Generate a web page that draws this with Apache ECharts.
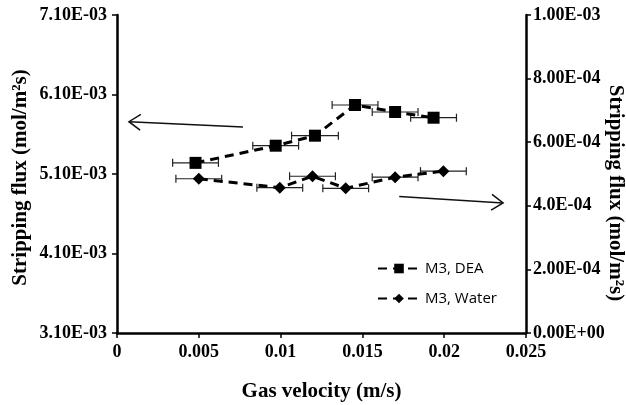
<!DOCTYPE html>
<html>
<head>
<meta charset="utf-8">
<script src="https://cdn.jsdelivr.net/npm/echarts@6/dist/echarts.min.js"></script>
<style>
  html, body { margin: 0; background: #fff; }
  #chart { width: 626px; height: 405px; }
</style>
</head>
<body>
<div id="chart"></div>
<script>
// gas velocity (m/s) and flux readings
const deaX = [0.0048, 0.0097, 0.0121, 0.01455, 0.0170, 0.01935]
const deaY = [5.24e-3, 5.456e-3, 5.582e-3, 5.968e-3, 5.88e-3, 5.808e-3]
const deaErr = [0.0014, 0.0014, 0.00143, 0.0014, 0.0014, 0.0014]

const waterX = [0.0050, 0.00995, 0.01195, 0.01398, 0.0170, 0.01995]
const waterY = [4.85e-4, 4.57e-4, 4.93e-4, 4.55e-4, 4.90e-4, 5.09e-4]
const waterErr = [0.0014, 0.0014, 0.0014, 0.0014, 0.0014, 0.0014]

const xTicks = [0, 0.005, 0.01, 0.015, 0.02, 0.025]
const leftTicks = [0.0031, 0.0041, 0.0051, 0.0061, 0.0071]
const leftLabels = ['3.10E-03', '4.10E-03', '5.10E-03', '6.10E-03', '7.10E-03']
const rightTicks = [0, 0.0002, 0.0004, 0.0006, 0.0008, 0.001]
const rightLabels = ['0.00E+00', '2.00E-04', '4.0E-04', '6.00E-04', '8.00E-04', '1.00E-03']

// annotation arrows [start, tip] in data units
const leftArrow = [[0.0077, 5.691e-3], [0.00073, 5.758e-3]]
const rightArrow = [[0.01725, 4.29e-4], [0.0236, 4.09e-4]]

const serif = 'Liberation Serif'
const tickFont = {color: '#000', fontFamily: serif, fontWeight: 'bold', fontSize: 18}
const nameFont = {color: '#000', fontFamily: serif, fontWeight: 'bold', fontSize: 21}
const axisLine = {show: true, lineStyle: {color: '#000', width: 2.5}}
const axisTick = {show: true, length: 5, lineStyle: {color: '#000', width: 1.5}}

const pickLabel = (ticks, labels) => v => {
  const i = ticks.findIndex(t => Math.abs(t - v) < 1e-9)
  return i < 0 ? '' : labels[i]
}

function errorBars(yIndex, xs, ys, errs) {
  return {
    type: 'custom',
    xAxisIndex: 0,
    yAxisIndex: yIndex,
    silent: true,
    z: 1,
    data: xs.map((x, i) => [x, ys[i], errs[i]]),
    renderItem(params, api) {
      const lo = api.coord([api.value(0) - api.value(2), api.value(1)])
      const hi = api.coord([api.value(0) + api.value(2), api.value(1)])
      const c = 4
      const style = {stroke: '#222', lineWidth: 1.2}
      return {
        type: 'group',
        children: [
          {type: 'line', shape: {x1: lo[0], y1: lo[1], x2: hi[0], y2: hi[1]}, style},
          {type: 'line', shape: {x1: lo[0], y1: lo[1] - c, x2: lo[0], y2: lo[1] + c}, style},
          {type: 'line', shape: {x1: hi[0], y1: hi[1] - c, x2: hi[0], y2: hi[1] + c}, style}
        ]
      }
    }
  }
}

const chart = echarts.init(document.getElementById('chart'))

const lineStyle = {color: '#000', width: 3, type: [9, 6]}

chart.setOption({
  animation: false,
  backgroundColor: '#fff',
  grid: {left: 117, right: 100, top: 15, bottom: 72, containLabel: false, outerBoundsMode: 'none'},
  legend: {
    orient: 'vertical',
    left: 372,
    top: 256,
    itemGap: 15,
    itemWidth: 42,
    itemHeight: 12,
    data: ['M3, DEA', 'M3, Water'],
    textStyle: {fontFamily: 'Open Sans', fontSize: 15, color: '#000'}
  },
  xAxis: {
    type: 'value',
    min: 0,
    max: 0.025,
    interval: 0.005,
    name: 'Gas velocity (m/s)',
    nameLocation: 'middle',
    nameGap: 48,
    nameMoveOverlap: false,
    nameTextStyle: nameFont,
    axisLine,
    axisTick,
    axisLabel: {...tickFont, margin: 10, formatter: v => String(v), customValues: xTicks},
    splitLine: {show: false}
  },
  yAxis: [
    {
      type: 'value',
      position: 'left',
      min: 0.0031,
      max: 0.0071,
      name: 'Stripping flux (mol/m²s)',
      nameLocation: 'middle',
      nameGap: 86,
      nameMoveOverlap: false,
      nameTextStyle: {...nameFont, padding: [0, 7, 0, 0]},
      axisLine,
      axisTick: {...axisTick, customValues: leftTicks},
      axisLabel: {...tickFont, margin: 10, customValues: leftTicks, formatter: pickLabel(leftTicks, leftLabels)},
      splitLine: {show: false}
    },
    {
      type: 'value',
      position: 'right',
      min: 0,
      max: 0.001,
      interval: 0.0002,
      name: 'Stripping flux (mol/m²s)',
      nameLocation: 'middle',
      nameRotate: -90,
      nameGap: 79,
      nameMoveOverlap: false,
      nameTextStyle: {...nameFont, padding: [0, 0, 0, 38]},
      axisLine,
      axisTick,
      axisLabel: {...tickFont, margin: 7, formatter: pickLabel(rightTicks, rightLabels)},
      splitLine: {show: false}
    }
  ],
  series: [
    errorBars(0, deaX, deaY, deaErr),
    errorBars(1, waterX, waterY, waterErr),
    {
      name: 'M3, DEA',
      type: 'line',
      yAxisIndex: 0,
      z: 3,
      data: deaX.map((x, i) => [x, deaY[i]]),
      symbol: 'rect',
      symbolSize: 12,
      itemStyle: {color: '#000'},
      lineStyle
    },
    {
      name: 'M3, Water',
      type: 'line',
      yAxisIndex: 1,
      z: 3,
      data: waterX.map((x, i) => [x, waterY[i]]),
      symbol: 'path://M0,-1L1,0L0,1L-1,0Z',
      symbolSize: 12,
      itemStyle: {color: '#000'},
      lineStyle
    }
  ]
})

// open-headed arrows placed through the axes' own conversion
function arrow(pts, yIndex) {
  const finder = {xAxisIndex: 0, yAxisIndex: yIndex}
  const a = chart.convertToPixel(finder, pts[0])
  const b = chart.convertToPixel(finder, pts[1])
  const ang = Math.atan2(a[1] - b[1], a[0] - b[0])
  const len = 14
  const spread = 0.6
  const p1 = [b[0] + len * Math.cos(ang + spread), b[1] + len * Math.sin(ang + spread)]
  const p2 = [b[0] + len * Math.cos(ang - spread), b[1] + len * Math.sin(ang - spread)]
  const style = {stroke: '#111', lineWidth: 1.5, fill: null}
  return [
    {type: 'polyline', shape: {points: [a, b]}, style},
    {type: 'polyline', shape: {points: [p1, b, p2]}, style}
  ]
}

chart.setOption({
  graphic: [...arrow(leftArrow, 0), ...arrow(rightArrow, 1)]
})
</script>
</body>
</html>
